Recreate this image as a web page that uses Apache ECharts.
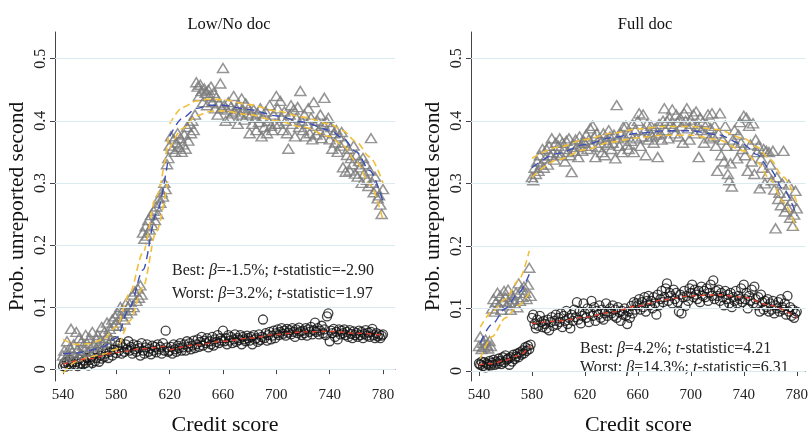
<!DOCTYPE html>
<html><head><meta charset="utf-8">
<script src="https://cdn.jsdelivr.net/npm/echarts@6/dist/echarts.min.js"></script>
<style>html,body{margin:0;padding:0;background:#fff}#c{width:811px;height:441px}</style>
</head><body><div id="c"></div>
<script>
// ---------- DATA ----------
const panelTitles = ['Low/No doc', 'Full doc'];
const xTicks = [540, 580, 620, 660, 700, 740, 780];
const yTicks = [0, 0.1, 0.2, 0.3, 0.4, 0.5];
const firstScore = 540; // one bin per credit score, 540..780

// Low/No doc – triangles
const triLow = [
0.022,0.030,0.018,0.045,0.025,0.035,0.065,0.028,0.040,0.020,
0.060,0.032,0.050,0.025,0.045,0.038,0.030,0.055,0.042,0.028,
0.050,0.035,0.060,0.040,0.030,0.048,0.055,0.038,0.045,0.068,
0.042,0.060,0.050,0.075,0.055,0.065,0.048,0.080,0.070,0.085,
0.075,0.090,0.070,0.100,0.085,0.095,0.080,0.105,0.090,0.100,
0.105,0.095,0.120,0.100,0.125,0.110,0.130,0.115,0.135,0.120,
0.220,0.210,0.230,0.215,0.240,0.225,0.248,0.232,0.255,0.240,
0.262,0.250,0.275,0.268,0.285,0.278,0.300,0.290,0.330,0.340,
0.360,0.375,0.355,0.370,0.350,0.365,0.380,0.358,0.372,0.350,
0.362,0.378,0.355,0.390,0.368,0.395,0.380,0.400,0.385,0.410,
0.462,0.455,0.440,0.458,0.448,0.430,0.452,0.445,0.425,0.450,
0.440,0.455,0.430,0.445,0.420,0.438,0.410,0.428,0.460,0.420,
0.485,0.425,0.400,0.418,0.430,0.405,0.422,0.412,0.440,0.415,
0.420,0.395,0.425,0.410,0.436,0.418,0.402,0.428,0.412,0.420,
0.380,0.410,0.395,0.418,0.405,0.385,0.412,0.398,0.420,0.375,
0.405,0.390,0.415,0.380,0.400,0.425,0.392,0.385,0.410,0.395,
0.440,0.420,0.395,0.432,0.405,0.385,0.415,0.400,0.380,0.355,
0.410,0.425,0.395,0.418,0.375,0.405,0.422,0.390,0.448,0.400,
0.385,0.410,0.375,0.395,0.420,0.380,0.405,0.370,0.430,0.392,
0.378,0.400,0.385,0.410,0.372,0.395,0.437,0.382,0.398,0.405,
0.370,0.390,0.355,0.380,0.365,0.385,0.350,0.375,0.360,0.382,
0.325,0.365,0.318,0.345,0.355,0.320,0.340,0.330,0.360,0.315,
0.345,0.310,0.335,0.325,0.300,0.340,0.315,0.330,0.305,0.295,
0.320,0.372,0.300,0.285,0.310,0.290,0.275,0.280,0.265,0.250,
0.290];
// Low/No doc – circles
const circLow = [
0.005,0.010,0.004,0.012,0.008,0.015,0.006,0.011,0.020,0.007,
0.012,0.005,0.016,0.009,0.022,0.008,0.014,0.010,0.018,0.006,
0.015,0.020,0.010,0.025,0.013,0.018,0.028,0.012,0.022,0.017,
0.030,0.020,0.025,0.035,0.018,0.028,0.040,0.022,0.032,0.045,
0.026,0.038,0.030,0.042,0.025,0.035,0.028,0.040,0.032,0.045,
0.030,0.036,0.025,0.040,0.032,0.028,0.038,0.034,0.022,0.042,
0.030,0.025,0.035,0.040,0.028,0.033,0.024,0.038,0.030,0.036,
0.027,0.040,0.032,0.036,0.025,0.042,0.030,0.062,0.035,0.028,
0.030,0.036,0.025,0.040,0.032,0.028,0.038,0.034,0.042,0.030,
0.035,0.040,0.030,0.045,0.036,0.042,0.032,0.038,0.046,0.034,
0.040,0.048,0.036,0.044,0.052,0.038,0.046,0.042,0.050,0.035,
0.045,0.040,0.052,0.038,0.048,0.044,0.055,0.042,0.050,0.046,
0.062,0.045,0.050,0.040,0.055,0.046,0.052,0.042,0.048,0.056,
0.044,0.050,0.047,0.055,0.040,0.052,0.048,0.045,0.054,0.050,
0.046,0.052,0.040,0.055,0.048,0.050,0.044,0.056,0.047,0.052,
0.080,0.050,0.058,0.046,0.055,0.060,0.048,0.054,0.062,0.050,
0.058,0.064,0.055,0.060,0.066,0.057,0.062,0.054,0.065,0.059,
0.063,0.056,0.066,0.060,0.052,0.064,0.058,0.067,0.061,0.055,
0.062,0.058,0.066,0.054,0.064,0.060,0.068,0.056,0.063,0.075,
0.060,0.066,0.056,0.062,0.070,0.058,0.064,0.055,0.085,0.090,
0.045,0.062,0.058,0.065,0.052,0.060,0.048,0.064,0.056,0.062,
0.058,0.064,0.055,0.060,0.052,0.063,0.057,0.050,0.061,0.055,
0.058,0.052,0.062,0.055,0.060,0.050,0.057,0.063,0.054,0.059,
0.052,0.060,0.065,0.055,0.050,0.058,0.053,0.056,0.050,0.054,
0.056];
// Full doc – triangles
const triFull = [
0.040,0.055,0.035,0.045,0.038,0.050,0.042,0.036,0.048,0.040,
0.100,0.115,0.095,0.110,0.125,0.105,0.120,0.098,0.112,0.128,
0.118,0.105,0.130,0.110,0.098,0.122,0.115,0.108,0.125,0.102,
0.140,0.112,0.130,0.118,0.135,0.125,0.115,0.138,0.165,0.120,
0.310,0.305,0.325,0.315,0.335,0.320,0.345,0.330,0.355,0.325,
0.340,0.355,0.330,0.360,0.345,0.372,0.350,0.338,0.365,0.348,
0.360,0.372,0.345,0.365,0.355,0.335,0.368,0.350,0.372,0.345,
0.318,0.362,0.352,0.370,0.358,0.342,0.375,0.360,0.352,0.368,
0.365,0.378,0.355,0.370,0.388,0.360,0.392,0.375,0.342,0.380,
0.358,0.372,0.365,0.350,0.380,0.345,0.370,0.362,0.385,0.375,
0.355,0.365,0.378,0.340,0.425,0.372,0.360,0.380,0.350,0.390,
0.375,0.392,0.362,0.355,0.380,0.368,0.395,0.350,0.385,0.372,
0.400,0.412,0.360,0.375,0.410,0.385,0.345,0.395,0.370,0.382,
0.392,0.375,0.365,0.388,0.378,0.342,0.395,0.380,0.370,0.400,
0.420,0.385,0.400,0.372,0.405,0.395,0.418,0.390,0.380,0.410,
0.398,0.375,0.405,0.392,0.365,0.412,0.400,0.420,0.388,0.370,
0.402,0.395,0.410,0.380,0.415,0.392,0.342,0.405,0.385,0.398,
0.365,0.380,0.395,0.410,0.372,0.388,0.412,0.375,0.392,0.360,
0.320,0.380,0.412,0.345,0.370,0.335,0.392,0.360,0.315,0.305,
0.332,0.295,0.370,0.385,0.360,0.340,0.378,0.398,0.365,0.355,
0.408,0.345,0.405,0.320,0.392,0.362,0.335,0.396,0.315,0.370,
0.350,0.360,0.292,0.340,0.325,0.355,0.300,0.352,0.315,0.350,
0.330,0.305,0.352,0.290,0.228,0.310,0.275,0.285,0.265,0.300,
0.352,0.255,0.280,0.262,0.298,0.245,0.272,0.232,0.250,0.288,
0.260];
// Full doc – circles
const circFull = [
0.012,0.010,0.015,0.008,0.014,0.006,0.012,0.010,0.016,0.009,
0.013,0.018,0.010,0.015,0.012,0.020,0.016,0.011,0.022,0.014,
0.025,0.018,0.020,0.010,0.022,0.015,0.026,0.019,0.023,0.028,
0.022,0.030,0.026,0.033,0.028,0.038,0.032,0.040,0.035,0.042,
0.085,0.090,0.075,0.068,0.082,0.072,0.088,0.078,0.070,0.080,
0.075,0.068,0.082,0.065,0.078,0.086,0.072,0.080,0.090,0.074,
0.085,0.078,0.092,0.070,0.088,0.080,0.096,0.075,0.085,0.068,
0.090,0.080,0.098,0.086,0.110,0.082,0.095,0.076,0.088,0.108,
0.092,0.085,0.100,0.078,0.094,0.112,0.088,0.102,0.080,0.096,
0.090,0.105,0.085,0.098,0.082,0.092,0.108,0.088,0.095,0.100,
0.092,0.105,0.088,0.098,0.085,0.102,0.094,0.080,0.096,0.090,
0.100,0.088,0.075,0.095,0.085,0.104,0.092,0.110,0.098,0.108,
0.105,0.115,0.098,0.110,0.102,0.118,0.095,0.112,0.120,0.105,
0.112,0.100,0.118,0.108,0.090,0.122,0.105,0.115,0.128,0.110,
0.118,0.132,0.140,0.112,0.125,0.120,0.108,0.130,0.115,0.125,
0.110,0.095,0.122,0.092,0.118,0.128,0.104,0.120,0.112,0.132,
0.125,0.138,0.118,0.130,0.122,0.115,0.128,0.110,0.135,0.120,
0.128,0.118,0.132,0.112,0.125,0.138,0.120,0.145,0.115,0.128,
0.120,0.130,0.112,0.125,0.118,0.105,0.128,0.115,0.122,0.108,
0.125,0.102,0.118,0.112,0.128,0.108,0.120,0.115,0.132,0.110,
0.138,0.115,0.125,0.100,0.120,0.112,0.130,0.108,0.135,0.115,
0.105,0.118,0.095,0.122,0.110,0.098,0.112,0.102,0.115,0.095,
0.108,0.098,0.112,0.092,0.105,0.100,0.110,0.095,0.115,0.102,
0.098,0.108,0.090,0.120,0.095,0.102,0.088,0.098,0.085,0.092,
0.095];

// Fitted curves (read at sample scores)
const fitLowTriAx = [540,550,560,570,580,590,600,610,619];
const fitLowTriA  = [0.025,0.026,0.030,0.036,0.050,0.100,0.160,0.250,0.340];
const fitLowTriAU = [0.048,0.040,0.041,0.048,0.068,0.122,0.188,0.278,0.372];
const fitLowTriAL = [-0.006,0.012,0.020,0.024,0.032,0.078,0.132,0.222,0.308];
const fitLowTriBx = [620,630,640,650,660,680,700,720,740,750,760,770,780];
const fitLowTriB  = [0.375,0.405,0.420,0.425,0.425,0.418,0.408,0.398,0.385,0.372,0.350,0.320,0.270];
const fitLowTriBU = [0.395,0.422,0.432,0.435,0.434,0.426,0.416,0.406,0.395,0.384,0.366,0.342,0.300];
const fitLowTriBL = [0.355,0.388,0.408,0.415,0.416,0.410,0.400,0.390,0.375,0.360,0.334,0.298,0.240];
const fitLowCircAx = [540,560,580,600,619];
const fitLowCircA  = [0.008,0.017,0.027,0.033,0.038];
const fitLowCircBx = [620,640,660,680,700,720,740,760,780];
const fitLowCircB  = [0.031,0.039,0.045,0.050,0.056,0.060,0.061,0.058,0.055];

const fitFullTriAx = [541,550,560,570,578];
const fitFullTriA  = [0.045,0.075,0.100,0.125,0.155];
const fitFullTriAU = [0.070,0.095,0.115,0.145,0.192];
const fitFullTriAL = [0.020,0.055,0.085,0.105,0.125];
const fitFullTriBx = [580,600,620,640,660,680,700,720,740,750,760,770,780];
const fitFullTriB  = [0.325,0.348,0.362,0.373,0.380,0.384,0.384,0.378,0.362,0.346,0.322,0.290,0.248];
const fitFullTriBU = [0.340,0.358,0.370,0.380,0.387,0.391,0.391,0.386,0.372,0.358,0.338,0.310,0.270];
const fitFullTriBL = [0.310,0.338,0.354,0.366,0.373,0.377,0.377,0.370,0.352,0.334,0.306,0.270,0.226];
const fitFullCircAx = [540,550,560,570,579];
const fitFullCircA  = [0.010,0.012,0.017,0.025,0.040];
const fitFullCircBx = [580,600,620,640,660,680,700,720,740,760,780];
const fitFullCircB  = [0.076,0.080,0.086,0.094,0.104,0.114,0.120,0.122,0.118,0.105,0.085];

const annotations = [
  [['Best: ', 'β', '=-1.5%; ', 't', '-statistic=-2.90'], ['Worst: ', 'β', '=3.2%; ', 't', '-statistic=1.97']],
  [['Best: ', 'β', '=4.2%; ', 't', '-statistic=4.21'], ['Worst: ', 'β', '=14.3%; ', 't', '-statistic=6.31']]
];

// ---------- BUILD ----------
const FONT = '"Liberation Serif","DejaVu Serif",serif';
const pts = arr => arr.map((v, i) => [firstScore + i, v]);
const pairs = (xs, ys) => xs.map((x, i) => [x, ys[i]]);

const grids = [
  {left: 55, top: 32, width: 340, height: 356},
  {left: 471, top: 32, width: 337, height: 356}
];
const xRanges = [[534, 789], [534, 786.75]];
const yRanges = [[-0.019, 0.543], [-0.016, 0.542]];

function xAxis(i) {
  return {
    gridIndex: i, type: 'value', min: xRanges[i][0], max: xRanges[i][1],
    name: 'Credit score', nameLocation: 'middle', nameGap: 33,
    nameTextStyle: {fontFamily: FONT, fontSize: 22, color: '#111'},
    axisLine: {lineStyle: {color: '#444', width: 1}},
    axisTick: {show: true, length: 5, customValues: xTicks, lineStyle: {color: '#444'}},
    axisLabel: {customValues: xTicks, fontFamily: FONT, fontSize: 15, color: '#222', margin: 7},
    splitLine: {show: false}
  };
}
function yAxis(i) {
  return {
    gridIndex: i, type: 'value', min: yRanges[i][0], max: yRanges[i][1],
    name: 'Prob. unreported second', nameLocation: 'middle', nameGap: 27, nameRotate: 90,
    nameTextStyle: {fontFamily: FONT, fontSize: 21.5, color: '#111'},
    axisLine: {show: true, lineStyle: {color: '#444', width: 1}},
    axisTick: {show: true, length: 5, customValues: yTicks, lineStyle: {color: '#444'}},
    axisLabel: {customValues: yTicks, rotate: 90, fontFamily: FONT, fontSize: 16, color: '#222', margin: 6,
      formatter: v => (v === 0 ? '0' : String(+v.toFixed(1)))},
    splitLine: {show: false}
  };
}

const series = [];
const panels = [
  {tri: triLow, circ: circLow,
   triFits: [[fitLowTriAx, fitLowTriA, fitLowTriAU, fitLowTriAL], [fitLowTriBx, fitLowTriB, fitLowTriBU, fitLowTriBL]],
   circFits: [[fitLowCircAx, fitLowCircA], [fitLowCircBx, fitLowCircB]]},
  {tri: triFull, circ: circFull,
   triFits: [[fitFullTriAx, fitFullTriA, fitFullTriAU, fitFullTriAL], [fitFullTriBx, fitFullTriB, fitFullTriBU, fitFullTriBL]],
   circFits: [[fitFullCircAx, fitFullCircA], [fitFullCircBx, fitFullCircB]]}
];

function fitLine(i, data, color, dash, width, z) {
  return {type: 'line', xAxisIndex: i, yAxisIndex: i, data, smooth: 0.3, smoothMonotone: 'x',
    showSymbol: false, silent: true, lineStyle: {color, type: dash, width}, z};
}

panels.forEach((p, i) => {
  // grid lines
  series.push({type: 'scatter', xAxisIndex: i, yAxisIndex: i, data: [], z: 0, silent: true,
    markLine: {silent: true, symbol: 'none', label: {show: false},
      lineStyle: {color: '#dbe9f0', type: 'solid', width: 1},
      data: yTicks.map(v => ({yAxis: v}))}});
  series.push({type: 'scatter', xAxisIndex: i, yAxisIndex: i, data: pts(p.circ), symbol: 'circle', symbolSize: 9,
    itemStyle: {color: 'rgba(255,255,255,0)', borderColor: '#111', borderWidth: 1.3}, z: 2});
  series.push({type: 'scatter', xAxisIndex: i, yAxisIndex: i, data: pts(p.tri), symbol: 'triangle', symbolSize: [11, 9],
    itemStyle: {color: 'rgba(255,255,255,0)', borderColor: '#7b7b7b', borderWidth: 1.5}, z: 3});
  p.triFits.forEach(f => {
    series.push(fitLine(i, pairs(f[0], f[2]), '#f2bf3a', [7, 4], 1.6, 4));
    series.push(fitLine(i, pairs(f[0], f[3]), '#f2bf3a', [7, 4], 1.6, 4));
    series.push(fitLine(i, pairs(f[0], f[1]), '#3d4fb5', [8, 5], 1.4, 5));
  });
  p.circFits.forEach(f => {
    series.push(fitLine(i, pairs(f[0], f[1]), '#e2402f', [5, 4], 1.4, 5));
  });
});

function richLine(parts) {
  return parts.map((s, k) => (k % 2 === 1 ? '{i|' + s + '}' : '{n|' + s + '}')).join('');
}
const rich = {n: {fontFamily: FONT, fontSize: 16, fill: '#222'}, i: {fontFamily: FONT, fontSize: 16, fontStyle: 'italic', fill: '#222'}};
const annoPos = [[172, 263, 286], [580, 341, 360]];
const graphic = [];
annotations.forEach((a, i) => {
  a.forEach((parts, k) => {
    graphic.push({type: 'text', left: annoPos[i][0], top: annoPos[i][1 + k], silent: true,
      style: {text: richLine(parts), rich, fontFamily: FONT, fontSize: 16, fill: '#222'}});
  });
});

const chart = echarts.init(document.getElementById('c'), null, {renderer: 'canvas'});
chart.setOption({
  animation: false,
  backgroundColor: '#fff',
  title: panelTitles.map((t, i) => ({text: t, left: i === 0 ? 224 : 640, top: 11, textAlign: 'center',
    textStyle: {fontFamily: FONT, fontSize: 16.5, fontWeight: 'normal', color: '#111'}})),
  grid: grids,
  xAxis: [xAxis(0), xAxis(1)],
  yAxis: [yAxis(0), yAxis(1)],
  graphic,
  series
});
</script></body></html>
